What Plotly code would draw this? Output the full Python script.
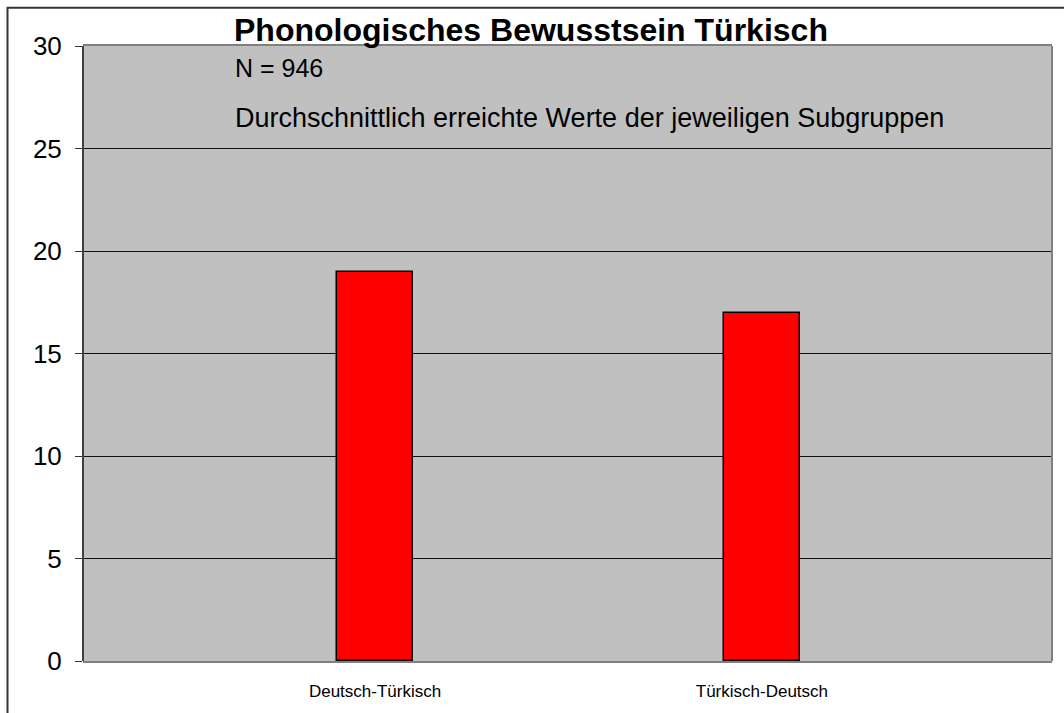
import plotly.graph_objects as go

categories = ["Deutsch-Türkisch", "Türkisch-Deutsch"]
values = [19.0, 17.0]
y_ticks = [0, 5, 10, 15, 20, 25, 30]

title_text = "Phonologisches Bewusstsein Türkisch"
n_text = "N = 946"
sub_text = "Durchschnittlich erreichte Werte der jeweiligen Subgruppen"

W, H = 1064, 713
L, R, T, B = 83, 12, 46, 48
pw, ph = W - L - R, H - T - B

def px_x(x):
    return (x - L) / pw

def px_y(y):
    return (H - B - y) / ph

FONT = "Liberation Sans, Arial, sans-serif"

fig = go.Figure()
fig.add_trace(go.Bar(
    x=categories, y=values, width=0.196,
    marker=dict(color="#ff0000", line=dict(color="#000000", width=1.5)),
    showlegend=False,
))

fig.update_layout(
    width=W, height=H,
    margin=dict(l=L, r=R, t=T, b=B),
    paper_bgcolor="white",
    plot_bgcolor="#c0c0c0",
    font=dict(family=FONT, color="black"),
    bargap=0,
    xaxis=dict(
        type="category", range=[-0.755, 1.75],
        showgrid=False, zeroline=False,
        showline=True, linecolor="#808080", linewidth=2, mirror=True,
        ticks="", tickfont=dict(size=17, family=FONT, color="black"),
        ticklabelstandoff=14,
    ),
    yaxis=dict(
        range=[0, 30], tickvals=y_ticks,
        showgrid=True, gridcolor="#111111", gridwidth=1,
        zeroline=False,
        showline=False,
        ticks="outside", ticklen=7, tickcolor="#333333", tickwidth=1,
        tickfont=dict(size=26, family=FONT, color="black"),
        ticklabelstandoff=8,
    ),
    shapes=[
        dict(type="line", xref="paper", yref="paper", x0=0, x1=0, y0=0, y1=1,
             line=dict(color="#404040", width=2)),
        dict(type="line", xref="paper", yref="paper", x0=1, x1=1, y0=0, y1=1,
             line=dict(color="#808080", width=2)),
        # outer chart frame: top and left edges
        dict(type="line", xref="paper", yref="paper",
             x0=px_x(7), x1=px_x(1070), y0=px_y(7.5), y1=px_y(7.5),
             line=dict(color="#333333", width=2), layer="above"),
        dict(type="line", xref="paper", yref="paper",
             x0=px_x(7.5), x1=px_x(7.5), y0=px_y(720), y1=px_y(7),
             line=dict(color="#333333", width=2), layer="above"),
    ],
    annotations=[
        dict(text=f"<b>{title_text}</b>", xref="paper", yref="paper",
             x=px_x(232), y=px_y(30), xanchor="left", yanchor="middle",
             showarrow=False, font=dict(size=32, family=FONT, color="black")),
        dict(text=n_text, xref="paper", yref="paper",
             x=px_x(233), y=px_y(68), xanchor="left", yanchor="middle",
             showarrow=False, font=dict(size=25, family=FONT, color="black")),
        dict(text=sub_text, xref="paper", yref="paper",
             x=px_x(233), y=px_y(118), xanchor="left", yanchor="middle",
             showarrow=False, font=dict(size=27, family=FONT, color="black")),
    ],
)

fig.write_html(
    "out.html",
    config={"displayModeBar": False},
    post_script="document.body.style.margin='0';document.body.style.overflow='hidden';",
)
